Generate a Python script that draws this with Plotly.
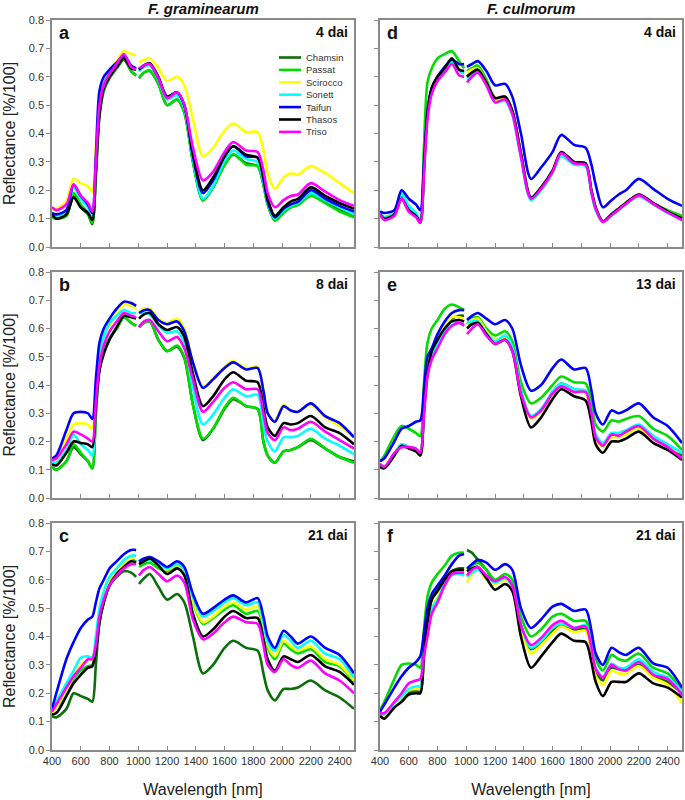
import plotly.graph_objects as go

# ---------------- data ----------------
WAVELENGTH = [400, 430, 500, 550, 600, 650, 680, 705, 730, 760, 800, 850, 900, 950, 985, 995,
              1005, 1040, 1080, 1140, 1200, 1270, 1320, 1380, 1450, 1520, 1600, 1660, 1750,
              1830, 1870, 1900, 1950, 2010, 2060, 2110, 2200, 2300, 2400, 2500]
CULTIVARS = ["Chamsin", "Passat", "Scirocco", "Sonett", "Taifun", "Thasos", "Triso"]
COLORS = ["#0a6e0a", "#00dd00", "#ffff00", "#00ffff", "#0000ff", "#000000", "#ff00ff"]
X_TICKS = [400, 600, 800, 1000, 1200, 1400, 1600, 1800, 2000, 2200, 2400]
Y_TICKS = [0.0, 0.1, 0.2, 0.3, 0.4, 0.5, 0.6, 0.7, 0.8]
SPECIES = ["F. graminearum", "F. culmorum"]

N = None
# F. graminearum 4 dai
REFL_A = {
    "Chamsin": [0.11, 0.10, 0.11, 0.18, 0.14, 0.115, 0.08, 0.25, 0.46, 0.55, 0.595, 0.63, 0.66, 0.62, 0.605, N, 0.595, 0.615, 0.62, 0.575, 0.50, 0.52, 0.475, 0.30, 0.165, 0.21, 0.29, 0.325, 0.295, 0.285, 0.22, 0.15, 0.095, 0.125, 0.14, 0.15, 0.185, 0.16, 0.13, 0.11],
    "Passat": [0.105, 0.10, 0.11, 0.19, 0.15, 0.12, 0.085, 0.26, 0.47, 0.555, 0.60, 0.635, 0.665, 0.62, 0.605, N, 0.595, 0.615, 0.622, 0.575, 0.50, 0.52, 0.475, 0.30, 0.165, 0.21, 0.29, 0.328, 0.29, 0.285, 0.22, 0.15, 0.093, 0.12, 0.14, 0.148, 0.18, 0.155, 0.125, 0.105],
    "Scirocco": [0.13, 0.135, 0.16, 0.24, 0.225, 0.215, 0.195, 0.35, 0.52, 0.58, 0.62, 0.655, 0.69, 0.68, 0.675, N, 0.65, 0.66, 0.665, 0.63, 0.585, 0.60, 0.57, 0.45, 0.32, 0.35, 0.41, 0.435, 0.405, 0.405, 0.34, 0.26, 0.205, 0.245, 0.26, 0.255, 0.285, 0.26, 0.225, 0.19],
    "Sonett": [0.12, 0.11, 0.125, 0.21, 0.17, 0.14, 0.11, 0.29, 0.50, 0.575, 0.615, 0.645, 0.675, 0.635, 0.625, N, 0.62, 0.635, 0.64, 0.59, 0.52, 0.535, 0.49, 0.31, 0.17, 0.215, 0.305, 0.34, 0.31, 0.30, 0.23, 0.155, 0.10, 0.13, 0.145, 0.155, 0.19, 0.165, 0.14, 0.115],
    "Taifun": [0.12, 0.115, 0.13, 0.22, 0.18, 0.15, 0.12, 0.32, 0.55, 0.60, 0.625, 0.65, 0.675, 0.64, 0.63, N, 0.625, 0.64, 0.645, 0.595, 0.53, 0.545, 0.50, 0.32, 0.19, 0.235, 0.32, 0.355, 0.32, 0.315, 0.24, 0.16, 0.105, 0.135, 0.15, 0.16, 0.20, 0.17, 0.145, 0.125],
    "Thasos": [0.115, 0.10, 0.115, 0.175, 0.14, 0.12, 0.095, 0.27, 0.47, 0.56, 0.60, 0.635, 0.665, 0.63, 0.625, N, 0.625, 0.64, 0.648, 0.60, 0.53, 0.545, 0.50, 0.33, 0.20, 0.245, 0.32, 0.355, 0.325, 0.315, 0.25, 0.17, 0.11, 0.14, 0.16, 0.17, 0.21, 0.18, 0.155, 0.135],
    "Triso": [0.14, 0.13, 0.15, 0.22, 0.18, 0.155, 0.125, 0.30, 0.50, 0.57, 0.61, 0.645, 0.68, 0.635, 0.625, N, 0.63, 0.64, 0.645, 0.595, 0.525, 0.545, 0.50, 0.35, 0.235, 0.265, 0.335, 0.37, 0.34, 0.335, 0.27, 0.19, 0.14, 0.165, 0.18, 0.185, 0.225, 0.195, 0.165, 0.145],
}
# F. culmorum 4 dai
REFL_D = {
    "Chamsin": [0.115, 0.10, 0.115, 0.175, 0.135, 0.11, 0.085, 0.27, 0.47, 0.56, 0.60, 0.63, 0.66, 0.625, 0.615, N, 0.60, 0.615, 0.625, 0.58, 0.52, 0.525, 0.475, 0.325, 0.17, 0.205, 0.265, 0.33, 0.295, 0.29, 0.195, 0.135, 0.09, 0.115, 0.135, 0.155, 0.182, 0.152, 0.125, 0.105],
    "Passat": [0.12, 0.105, 0.12, 0.175, 0.135, 0.11, 0.09, 0.35, 0.58, 0.63, 0.665, 0.68, 0.69, 0.655, 0.63, N, 0.62, 0.63, 0.64, 0.59, 0.525, 0.53, 0.48, 0.33, 0.17, 0.205, 0.265, 0.33, 0.295, 0.29, 0.195, 0.135, 0.09, 0.115, 0.135, 0.155, 0.185, 0.155, 0.13, 0.11],
    "Scirocco": [0.115, 0.10, 0.115, 0.17, 0.13, 0.11, 0.09, 0.27, 0.47, 0.555, 0.595, 0.625, 0.66, 0.625, 0.615, N, 0.615, 0.625, 0.63, 0.58, 0.52, 0.525, 0.475, 0.325, 0.17, 0.205, 0.265, 0.33, 0.295, 0.29, 0.195, 0.135, 0.088, 0.112, 0.132, 0.152, 0.18, 0.15, 0.12, 0.095],
    "Sonett": [0.12, 0.105, 0.12, 0.19, 0.145, 0.12, 0.095, 0.28, 0.47, 0.55, 0.59, 0.62, 0.65, 0.62, 0.61, N, 0.59, 0.605, 0.615, 0.57, 0.51, 0.515, 0.465, 0.315, 0.165, 0.20, 0.26, 0.32, 0.29, 0.285, 0.19, 0.13, 0.088, 0.11, 0.13, 0.15, 0.178, 0.15, 0.12, 0.095],
    "Taifun": [0.125, 0.12, 0.13, 0.20, 0.17, 0.15, 0.13, 0.29, 0.48, 0.56, 0.60, 0.635, 0.66, 0.645, 0.645, N, 0.635, 0.645, 0.655, 0.62, 0.57, 0.575, 0.53, 0.40, 0.24, 0.28, 0.335, 0.395, 0.36, 0.35, 0.29, 0.22, 0.14, 0.165, 0.185, 0.20, 0.24, 0.205, 0.17, 0.145],
    "Thasos": [0.115, 0.10, 0.115, 0.17, 0.13, 0.11, 0.09, 0.27, 0.47, 0.56, 0.60, 0.63, 0.665, 0.625, 0.62, N, 0.60, 0.615, 0.625, 0.58, 0.525, 0.53, 0.48, 0.33, 0.175, 0.21, 0.27, 0.335, 0.30, 0.295, 0.20, 0.14, 0.09, 0.115, 0.135, 0.155, 0.185, 0.155, 0.125, 0.10],
    "Triso": [0.115, 0.095, 0.11, 0.17, 0.125, 0.105, 0.085, 0.25, 0.45, 0.54, 0.585, 0.615, 0.645, 0.605, 0.60, N, 0.58, 0.60, 0.615, 0.57, 0.51, 0.52, 0.47, 0.32, 0.17, 0.205, 0.265, 0.33, 0.295, 0.29, 0.195, 0.135, 0.088, 0.112, 0.132, 0.152, 0.182, 0.152, 0.122, 0.095],
}
# F. graminearum 8 dai
REFL_B = {
    "Chamsin": [0.11, 0.10, 0.13, 0.18, 0.155, 0.13, 0.105, 0.30, 0.46, 0.52, 0.565, 0.60, 0.64, 0.62, 0.61, N, 0.605, 0.62, 0.625, 0.56, 0.52, 0.535, 0.495, 0.33, 0.205, 0.245, 0.315, 0.35, 0.325, 0.315, 0.20, 0.15, 0.125, 0.165, 0.17, 0.18, 0.205, 0.175, 0.145, 0.13],
    "Passat": [0.11, 0.10, 0.13, 0.19, 0.16, 0.13, 0.105, 0.30, 0.46, 0.52, 0.565, 0.60, 0.64, 0.62, 0.61, N, 0.605, 0.62, 0.625, 0.56, 0.52, 0.54, 0.50, 0.33, 0.21, 0.245, 0.32, 0.355, 0.325, 0.315, 0.20, 0.15, 0.125, 0.165, 0.17, 0.18, 0.21, 0.175, 0.145, 0.125],
    "Scirocco": [0.135, 0.14, 0.21, 0.26, 0.265, 0.26, 0.245, 0.40, 0.52, 0.58, 0.61, 0.655, 0.685, 0.68, 0.67, N, 0.66, 0.67, 0.67, 0.635, 0.62, 0.635, 0.60, 0.48, 0.395, 0.425, 0.465, 0.485, 0.46, 0.465, 0.385, 0.30, 0.275, 0.33, 0.31, 0.305, 0.33, 0.285, 0.255, 0.215],
    "Sonett": [0.13, 0.125, 0.17, 0.225, 0.19, 0.17, 0.15, 0.36, 0.52, 0.57, 0.62, 0.645, 0.665, 0.655, 0.655, N, 0.655, 0.655, 0.65, 0.61, 0.585, 0.59, 0.55, 0.39, 0.26, 0.295, 0.355, 0.385, 0.36, 0.365, 0.26, 0.20, 0.165, 0.215, 0.215, 0.22, 0.245, 0.21, 0.185, 0.155],
    "Taifun": [0.14, 0.15, 0.24, 0.30, 0.305, 0.30, 0.28, 0.42, 0.55, 0.60, 0.635, 0.67, 0.695, 0.69, 0.68, N, 0.655, 0.665, 0.665, 0.63, 0.615, 0.625, 0.59, 0.48, 0.39, 0.42, 0.46, 0.48, 0.455, 0.46, 0.38, 0.30, 0.27, 0.325, 0.31, 0.305, 0.335, 0.29, 0.265, 0.215],
    "Thasos": [0.12, 0.115, 0.16, 0.20, 0.195, 0.19, 0.18, 0.33, 0.45, 0.51, 0.56, 0.605, 0.645, 0.64, 0.635, N, 0.635, 0.65, 0.655, 0.615, 0.595, 0.605, 0.57, 0.44, 0.325, 0.36, 0.42, 0.445, 0.415, 0.41, 0.32, 0.25, 0.22, 0.265, 0.26, 0.265, 0.29, 0.25, 0.23, 0.19],
    "Triso": [0.135, 0.14, 0.19, 0.235, 0.225, 0.21, 0.20, 0.34, 0.47, 0.54, 0.59, 0.625, 0.655, 0.645, 0.64, N, 0.605, 0.625, 0.63, 0.59, 0.555, 0.57, 0.53, 0.42, 0.305, 0.34, 0.39, 0.41, 0.385, 0.385, 0.30, 0.23, 0.205, 0.25, 0.24, 0.245, 0.27, 0.235, 0.205, 0.175],
}
# F. culmorum 13 dai
REFL_E = {
    "Chamsin": [0.12, 0.11, 0.155, 0.19, 0.18, 0.17, 0.155, 0.31, 0.45, 0.52, 0.565, 0.61, 0.635, 0.645, 0.645, N, 0.615, 0.625, 0.63, 0.59, 0.555, 0.57, 0.53, 0.38, 0.285, 0.31, 0.375, 0.405, 0.385, 0.375, 0.30, 0.22, 0.185, 0.22, 0.22, 0.23, 0.255, 0.215, 0.185, 0.15],
    "Passat": [0.13, 0.15, 0.22, 0.255, 0.245, 0.23, 0.22, 0.40, 0.55, 0.60, 0.63, 0.67, 0.685, 0.675, 0.665, N, 0.615, 0.635, 0.64, 0.60, 0.575, 0.59, 0.555, 0.41, 0.335, 0.355, 0.40, 0.43, 0.41, 0.405, 0.34, 0.26, 0.235, 0.275, 0.27, 0.28, 0.29, 0.245, 0.22, 0.17],
    "Scirocco": [0.115, 0.11, 0.155, 0.19, 0.18, 0.17, 0.155, 0.31, 0.45, 0.52, 0.565, 0.61, 0.64, 0.64, 0.635, N, 0.615, 0.63, 0.635, 0.59, 0.56, 0.565, 0.525, 0.37, 0.28, 0.305, 0.37, 0.40, 0.38, 0.37, 0.29, 0.21, 0.18, 0.215, 0.215, 0.225, 0.245, 0.21, 0.18, 0.16],
    "Sonett": [0.12, 0.11, 0.155, 0.19, 0.18, 0.175, 0.16, 0.30, 0.44, 0.50, 0.55, 0.595, 0.625, 0.62, 0.615, N, 0.62, 0.625, 0.625, 0.585, 0.555, 0.575, 0.535, 0.38, 0.29, 0.315, 0.375, 0.405, 0.385, 0.38, 0.30, 0.225, 0.195, 0.23, 0.23, 0.24, 0.26, 0.22, 0.19, 0.16],
    "Taifun": [0.13, 0.14, 0.20, 0.245, 0.255, 0.27, 0.275, 0.38, 0.50, 0.53, 0.58, 0.625, 0.655, 0.665, 0.665, N, 0.63, 0.645, 0.655, 0.635, 0.615, 0.63, 0.60, 0.47, 0.38, 0.40, 0.46, 0.49, 0.455, 0.46, 0.38, 0.30, 0.26, 0.31, 0.30, 0.31, 0.335, 0.285, 0.255, 0.195],
    "Thasos": [0.11, 0.105, 0.15, 0.185, 0.175, 0.165, 0.15, 0.30, 0.44, 0.52, 0.56, 0.60, 0.625, 0.63, 0.625, N, 0.60, 0.615, 0.62, 0.58, 0.545, 0.56, 0.52, 0.36, 0.25, 0.285, 0.35, 0.385, 0.36, 0.345, 0.27, 0.19, 0.16, 0.20, 0.20, 0.21, 0.235, 0.195, 0.17, 0.135],
    "Triso": [0.12, 0.11, 0.16, 0.18, 0.18, 0.175, 0.16, 0.29, 0.43, 0.49, 0.53, 0.58, 0.61, 0.62, 0.61, N, 0.58, 0.60, 0.615, 0.575, 0.545, 0.56, 0.52, 0.37, 0.285, 0.31, 0.37, 0.395, 0.375, 0.375, 0.30, 0.215, 0.185, 0.225, 0.22, 0.235, 0.255, 0.21, 0.18, 0.14],
}
# F. graminearum 21 dai
REFL_C = {
    "Chamsin": [0.12, 0.115, 0.145, 0.20, 0.19, 0.18, 0.17, 0.30, 0.45, 0.52, 0.58, 0.61, 0.63, 0.625, 0.61, N, 0.585, 0.605, 0.62, 0.575, 0.53, 0.55, 0.52, 0.40, 0.27, 0.30, 0.36, 0.385, 0.36, 0.35, 0.27, 0.21, 0.175, 0.215, 0.215, 0.22, 0.245, 0.21, 0.185, 0.145],
    "Passat": [0.13, 0.15, 0.20, 0.25, 0.28, 0.295, 0.30, 0.37, 0.47, 0.53, 0.59, 0.625, 0.65, 0.67, 0.665, N, 0.645, 0.655, 0.66, 0.64, 0.63, 0.645, 0.62, 0.52, 0.445, 0.465, 0.495, 0.51, 0.48, 0.49, 0.43, 0.36, 0.32, 0.375, 0.355, 0.34, 0.355, 0.31, 0.295, 0.24],
    "Scirocco": [0.13, 0.15, 0.21, 0.26, 0.30, 0.315, 0.32, 0.38, 0.48, 0.54, 0.60, 0.63, 0.655, 0.675, 0.68, N, 0.655, 0.67, 0.675, 0.65, 0.635, 0.65, 0.625, 0.525, 0.45, 0.47, 0.505, 0.52, 0.495, 0.505, 0.44, 0.37, 0.33, 0.385, 0.365, 0.35, 0.365, 0.32, 0.30, 0.245],
    "Sonett": [0.14, 0.17, 0.235, 0.28, 0.325, 0.33, 0.325, 0.40, 0.50, 0.56, 0.61, 0.64, 0.67, 0.685, 0.685, N, 0.66, 0.665, 0.67, 0.655, 0.64, 0.655, 0.635, 0.54, 0.47, 0.49, 0.52, 0.535, 0.51, 0.52, 0.45, 0.38, 0.35, 0.405, 0.385, 0.36, 0.385, 0.34, 0.32, 0.255],
    "Taifun": [0.145, 0.20, 0.32, 0.38, 0.43, 0.46, 0.47, 0.52, 0.57, 0.60, 0.64, 0.665, 0.69, 0.705, 0.705, N, 0.665, 0.675, 0.68, 0.665, 0.645, 0.665, 0.645, 0.55, 0.48, 0.50, 0.53, 0.545, 0.52, 0.535, 0.47, 0.40, 0.36, 0.42, 0.40, 0.375, 0.40, 0.36, 0.335, 0.27],
    "Thasos": [0.125, 0.13, 0.19, 0.235, 0.265, 0.29, 0.295, 0.35, 0.45, 0.52, 0.58, 0.62, 0.645, 0.665, 0.66, N, 0.655, 0.665, 0.675, 0.65, 0.62, 0.64, 0.615, 0.48, 0.40, 0.425, 0.47, 0.49, 0.465, 0.465, 0.39, 0.32, 0.28, 0.33, 0.32, 0.31, 0.335, 0.295, 0.275, 0.23],
    "Triso": [0.135, 0.16, 0.22, 0.26, 0.29, 0.32, 0.32, 0.37, 0.47, 0.53, 0.58, 0.615, 0.64, 0.655, 0.655, N, 0.615, 0.635, 0.645, 0.62, 0.595, 0.615, 0.59, 0.46, 0.39, 0.41, 0.45, 0.47, 0.45, 0.445, 0.37, 0.30, 0.275, 0.32, 0.30, 0.29, 0.315, 0.27, 0.245, 0.20],
}
# F. culmorum 21 dai
REFL_F = {
    "Chamsin": [0.125, 0.12, 0.16, 0.18, 0.20, 0.21, 0.205, 0.33, 0.46, 0.53, 0.57, 0.605, 0.63, 0.64, 0.64, N, 0.705, 0.695, 0.67, 0.635, 0.59, 0.605, 0.575, 0.44, 0.355, 0.38, 0.42, 0.44, 0.425, 0.425, 0.36, 0.28, 0.245, 0.29, 0.285, 0.285, 0.30, 0.26, 0.24, 0.20],
    "Passat": [0.14, 0.17, 0.25, 0.30, 0.305, 0.30, 0.29, 0.42, 0.54, 0.59, 0.62, 0.65, 0.685, 0.695, 0.695, N, 0.635, 0.65, 0.66, 0.635, 0.60, 0.62, 0.60, 0.47, 0.40, 0.425, 0.47, 0.48, 0.455, 0.455, 0.39, 0.32, 0.28, 0.335, 0.32, 0.315, 0.34, 0.29, 0.27, 0.21],
    "Scirocco": [0.12, 0.115, 0.155, 0.185, 0.21, 0.215, 0.215, 0.33, 0.43, 0.50, 0.54, 0.585, 0.625, 0.63, 0.635, N, 0.59, 0.62, 0.635, 0.60, 0.585, 0.60, 0.57, 0.42, 0.34, 0.37, 0.41, 0.435, 0.415, 0.42, 0.34, 0.26, 0.23, 0.28, 0.27, 0.27, 0.295, 0.255, 0.23, 0.165],
    "Sonett": [0.125, 0.125, 0.165, 0.19, 0.215, 0.225, 0.225, 0.33, 0.44, 0.50, 0.53, 0.585, 0.615, 0.62, 0.615, N, 0.61, 0.625, 0.635, 0.61, 0.59, 0.605, 0.575, 0.44, 0.36, 0.385, 0.43, 0.445, 0.43, 0.44, 0.37, 0.29, 0.26, 0.305, 0.29, 0.29, 0.32, 0.275, 0.255, 0.205],
    "Taifun": [0.135, 0.16, 0.22, 0.26, 0.29, 0.31, 0.33, 0.41, 0.50, 0.55, 0.58, 0.615, 0.655, 0.685, 0.69, N, 0.64, 0.655, 0.67, 0.66, 0.635, 0.655, 0.635, 0.50, 0.43, 0.46, 0.505, 0.515, 0.49, 0.495, 0.42, 0.34, 0.30, 0.36, 0.345, 0.335, 0.36, 0.305, 0.29, 0.22],
    "Thasos": [0.12, 0.11, 0.15, 0.17, 0.195, 0.20, 0.20, 0.33, 0.45, 0.53, 0.56, 0.60, 0.63, 0.635, 0.635, N, 0.63, 0.64, 0.645, 0.605, 0.565, 0.585, 0.56, 0.40, 0.29, 0.33, 0.38, 0.41, 0.385, 0.38, 0.31, 0.24, 0.19, 0.24, 0.24, 0.24, 0.27, 0.235, 0.22, 0.185],
    "Triso": [0.13, 0.13, 0.17, 0.20, 0.235, 0.245, 0.25, 0.33, 0.40, 0.48, 0.52, 0.58, 0.62, 0.625, 0.625, N, 0.615, 0.635, 0.645, 0.615, 0.595, 0.61, 0.58, 0.44, 0.37, 0.395, 0.44, 0.455, 0.43, 0.435, 0.36, 0.285, 0.255, 0.30, 0.285, 0.28, 0.31, 0.265, 0.25, 0.195],
}

# panel order: (data, letter, dai label, axis suffix, column, row)
PANELS = [
    (REFL_A, "a", "4 dai", "", 0, 0),
    (REFL_D, "d", "4 dai", "2", 1, 0),
    (REFL_B, "b", "8 dai", "3", 0, 1),
    (REFL_E, "e", "13 dai", "4", 1, 1),
    (REFL_C, "c", "21 dai", "5", 0, 2),
    (REFL_F, "f", "21 dai", "6", 1, 2),
]

# ---------------- layout geometry ----------------
W, H = 685, 800
COL_PX = [(52, 354), (380, 682)]
ROW_PX = [(20, 247), (272, 498), (523, 750)]
GRAY = "#8a8a8a"
FONT = "Liberation Sans, Arial, sans-serif"


def xd(px):
    return px / W


def yd(px):
    return 1 - px / H


fig = go.Figure()
layout = dict(
    width=W, height=H, margin=dict(l=0, r=0, t=0, b=0, autoexpand=False),
    paper_bgcolor="white", plot_bgcolor="white", showlegend=False,
    font=dict(family=FONT, color="#222"),
)
annotations = []
shapes = []

for data, letter, dai, sfx, col, row in PANELS:
    xname, yname = "x" + sfx, "y" + sfx
    for name, color in zip(CULTIVARS, COLORS):
        fig.add_trace(go.Scatter(
            x=WAVELENGTH, y=data[name], name=name, mode="lines",
            line=dict(color=color, width=2.6, shape="spline", smoothing=0.8),
            connectgaps=False, xaxis=xname, yaxis=yname, showlegend=False,
        ))
    x0, x1 = COL_PX[col]
    y0, y1 = ROW_PX[row]
    layout["xaxis" + sfx] = dict(
        domain=[xd(x0), xd(x1)], anchor=yname, range=[400, 2500], automargin=False,
        tickvals=X_TICKS, ticks="inside", ticklen=4, tickcolor=GRAY, tickwidth=1,
        showline=True, mirror=True, linecolor=GRAY, linewidth=1.6,
        showgrid=False, zeroline=False, showticklabels=(row == 2),
        tickfont=dict(size=11, color="#333"),
        title=dict(text="Wavelength [nm]" if row == 2 else "",
                   font=dict(size=16, color="#222"), standoff=18),
    )
    layout["yaxis" + sfx] = dict(
        domain=[yd(y1), yd(y0)], anchor=xname, range=[0, 0.8], automargin=False,
        tickvals=Y_TICKS, tickformat=".1f", ticks="outside", ticklen=4,
        tickcolor=GRAY, tickwidth=1,
        showline=True, mirror=True, linecolor=GRAY, linewidth=1.6,
        showgrid=False, zeroline=False, showticklabels=(col == 0),
        tickfont=dict(size=11, color="#333"),
        title=dict(text="Reflectance [%/100]" if col == 0 else "",
                   font=dict(size=16, color="#222"), standoff=9),
    )
    annotations.append(dict(
        text="<b>%s</b>" % letter, xref="paper", yref="paper",
        x=xd(x0 + 5), y=yd(y0 + 13), xanchor="left", yanchor="middle",
        showarrow=False, font=dict(size=18, color="#111"),
    ))
    annotations.append(dict(
        text="<b>%s</b>" % dai, xref="paper", yref="paper",
        x=xd(x1 - 4), y=yd(y0 + 12), xanchor="right", yanchor="middle",
        showarrow=False, font=dict(size=14, color="#111"),
    ))

# column titles
for (x0, x1), sp in zip(COL_PX, SPECIES):
    annotations.append(dict(
        text="<b><i>%s</i></b>" % sp, xref="paper", yref="paper",
        x=xd((x0 + x1) / 2), y=yd(8), xanchor="center", yanchor="middle",
        showarrow=False, font=dict(size=15, color="#111"),
    ))

# legend inside panel a
for i, (name, color) in enumerate(zip(CULTIVARS, COLORS)):
    ypx = 57.5 + i * 12.4
    shapes.append(dict(type="line", xref="paper", yref="paper",
                       x0=xd(279), x1=xd(301), y0=yd(ypx), y1=yd(ypx),
                       line=dict(color=color, width=2.6)))
    annotations.append(dict(
        text=name, xref="paper", yref="paper", x=xd(304), y=yd(ypx),
        xanchor="left", yanchor="middle", showarrow=False,
        font=dict(size=9.5, color="#333"),
    ))

layout["annotations"] = annotations
layout["shapes"] = shapes
fig.update_layout(**layout)
# remove the default page margin so the 685x800 figure fills the window exactly
fig.write_html("out.html", config={"displayModeBar": False},
               post_script="document.body.style.margin='0';document.body.style.overflow='hidden';")
